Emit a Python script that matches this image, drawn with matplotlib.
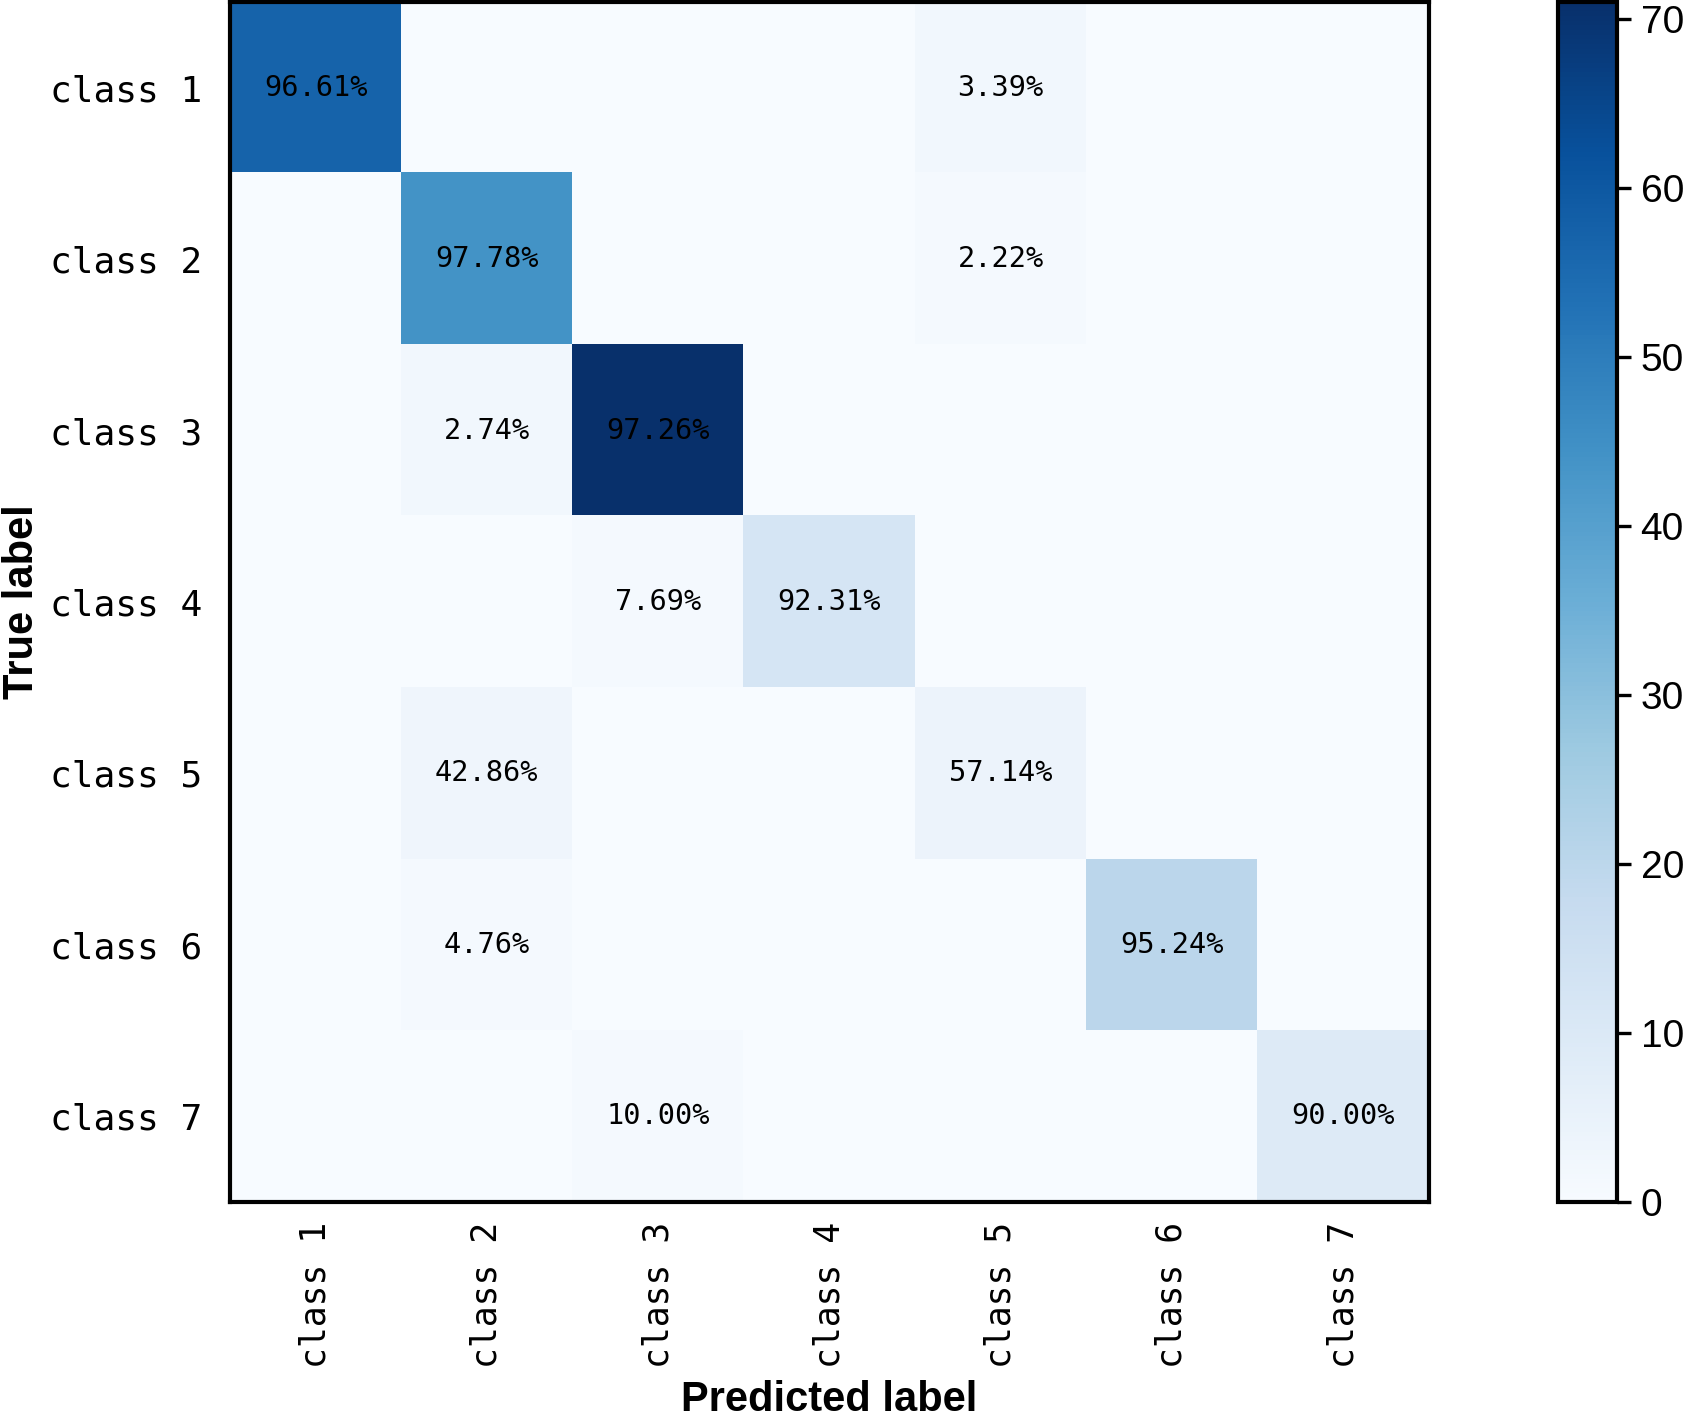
import numpy as np
import matplotlib
matplotlib.use('Agg')
import matplotlib.pyplot as plt

classes = ['class 1', 'class 2', 'class 3', 'class 4', 'class 5', 'class 6', 'class 7']
# counts per true class (rows) / predicted class (cols)
cm = np.array([
    [57, 0, 0, 0, 2, 0, 0],
    [0, 44, 0, 0, 1, 0, 0],
    [0, 2, 71, 0, 0, 0, 0],
    [0, 0, 1, 12, 0, 0, 0],
    [0, 3, 0, 0, 4, 0, 0],
    [0, 1, 0, 0, 0, 20, 0],
    [0, 0, 1, 0, 0, 0, 9],
])
cbar_ticks = [0, 10, 20, 30, 40, 50, 60, 70]

fig = plt.figure(figsize=(8.435, 7.12), dpi=200)
ax = fig.add_axes([0.1363, 0.1559, 0.7107, 0.8427])
cax = fig.add_axes([0.9235, 0.1559, 0.035, 0.8427])

im = ax.imshow(cm, cmap=plt.cm.Blues, interpolation='nearest', aspect='auto',
               vmin=0, vmax=cm.max())
cb = fig.colorbar(im, cax=cax, ticks=cbar_ticks)
cb.ax.tick_params(labelsize=14, width=1.2, length=5)
for t in cb.ax.get_yticklabels():
    t.set_family('Liberation Sans')
cb.outline.set_linewidth(1.5)

ax.set_xticks(np.arange(len(classes)))
ax.set_yticks(np.arange(len(classes)))
ax.set_xticklabels(classes, rotation=90, family='DejaVu Sans Mono', fontsize=12.5)
ax.set_yticklabels(classes, family='DejaVu Sans Mono', fontsize=13)
ax.tick_params(axis='y', length=0, pad=10)
ax.tick_params(axis='x', length=0, pad=7)
for s in ax.spines.values():
    s.set_linewidth(1.5)

row_sum = cm.sum(axis=1)
for i in range(cm.shape[0]):
    for j in range(cm.shape[1]):
        if cm[i, j] > 0:
            ax.text(j, i, '%.2f%%' % (cm[i, j] / row_sum[i] * 100),
                    ha='center', va='center', color='black',
                    family='DejaVu Sans Mono', fontsize=10.3)

ax.set_xlabel('Predicted label', family='Liberation Sans', fontsize=15,
              fontweight='bold')
ax.set_ylabel('True label', family='Liberation Sans', fontsize=15,
              fontweight='bold')
ax.xaxis.set_label_coords(0.5, -0.148)
ax.yaxis.set_label_coords(-0.157, 0.5)

fig.savefig('out.png', dpi=200)
